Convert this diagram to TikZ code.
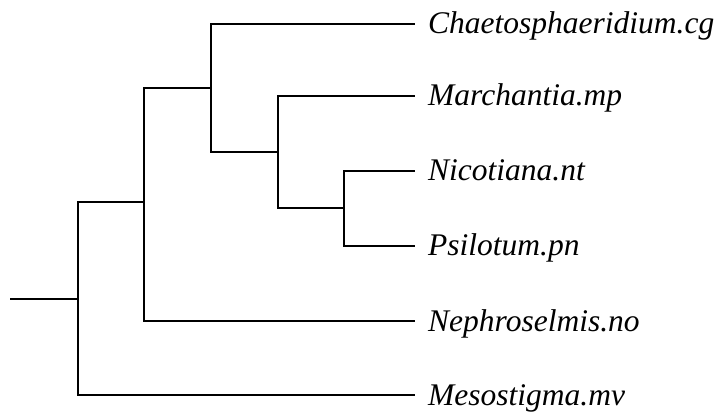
\documentclass[tikz,border=0pt]{standalone}
\usepackage{fontspec}
\setmainfont{Liberation Serif}
\begin{document}
\begin{tikzpicture}[x=1pt,y=-1pt,
  branch/.style={line width=2pt, line join=miter},
  taxon/.style={anchor=base west, inner sep=0pt, font=\fontsize{31.5}{36}\selectfont\itshape}]
\useasboundingbox (0,0) rectangle (718,414);
% internal nodes of the tree
\coordinate (root) at (10,299);
\coordinate (n1) at (78,299);
\coordinate (n2) at (144,202);
\coordinate (n3) at (211,88);
\coordinate (n4) at (278,152);
\coordinate (n5) at (344,208);
% leaf tips
\coordinate (tcg) at (415,24);
\coordinate (tmp) at (415,96);
\coordinate (tnt) at (415,171);
\coordinate (tpn) at (415,246);
\coordinate (tno) at (415,321);
\coordinate (tmv) at (415,395);
% taxon labels
\node[taxon] (cg) at (428,34) {Chaetosphaeridium.cg};
\node[taxon] (mp) at (428,106) {Marchantia.mp};
\node[taxon] (nt) at (428,181) {Nicotiana.nt};
\node[taxon] (pn) at (428,256) {Psilotum.pn};
\node[taxon] (no) at (428,331) {Nephroselmis.no};
\node[taxon] (mv) at (428,405) {Mesostigma.mv};
% branches
\draw[branch] (root) -- (n1);
\draw[branch] (n1) |- (n2);
\draw[branch] (n1) |- (tmv);
\draw[branch] (n2) |- (n3);
\draw[branch] (n2) |- (tno);
\draw[branch] (n3) |- (tcg);
\draw[branch] (n3) |- (n4);
\draw[branch] (n4) |- (tmp);
\draw[branch] (n4) |- (n5);
\draw[branch] (n5) |- (tnt);
\draw[branch] (n5) |- (tpn);
\end{tikzpicture}
\end{document}
